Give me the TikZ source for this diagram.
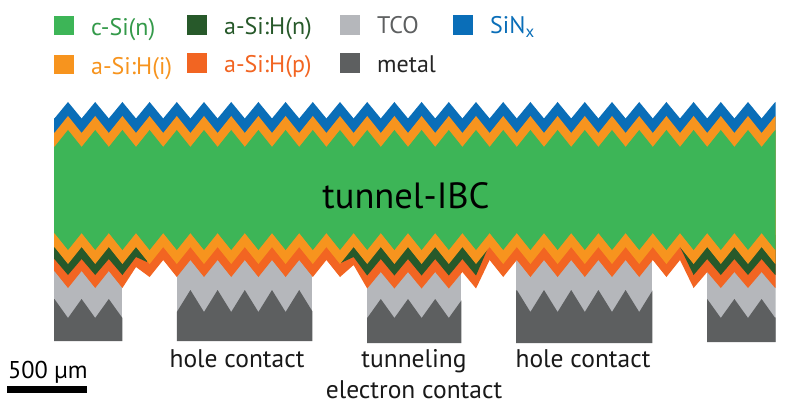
\documentclass[tikz,border=0pt]{standalone}
\usepackage{fontspec}
\setmainfont{PT Sans}
\definecolor{csi}{HTML}{3DB557}
\definecolor{intr}{HTML}{F7941E}
\definecolor{ndop}{HTML}{27592A}
\definecolor{pdop}{HTML}{F26522}
\definecolor{tco}{HTML}{B5B7BB}
\definecolor{metal}{HTML}{5D5F60}
\definecolor{sinx}{HTML}{0A6EB8}
% Zigzag vertices: even index k takes the first height, odd index the second.
\newcommand{\zig}[4]{\foreach \k in {#1,...,#2}{ -- ({54.4+13.6*\k},{mod(\k,2)==0 ? #3 : #4}) }}
% One rear contact: TCO block with a metal block on a textured top.
\newcommand{\contact}[5]{%
  \begin{scope}
    \clip (#1,250) rectangle (#2,#3);
    \fill[tco] (#1,250) rectangle (#2,#3);
    \fill[metal] (#1-30,#3) \zig{-3}{56}{#4}{#5} -- (#2+30,#3) -- cycle;
  \end{scope}}
\tikzset{
  legtxt/.style={anchor=base west,font=\fontsize{24}{28}\selectfont,inner sep=0pt},
  captxt/.style={anchor=base,font=\fontsize{25.5}{30}\selectfont,inner sep=0pt,text=black!90}
}
\begin{document}
\begin{tikzpicture}[x=1pt,y=-1pt]
\useasboundingbox (0,0) rectangle (787,406);
\fill[white] (0,0) rectangle (787,406);

% rear contacts
\contact{54}{122.4}{341}{299}{318}
\contact{176.8}{312.4}{341}{290}{312}
\contact{367.2}{461.4}{343}{299}{318}
\contact{516}{652.4}{343}{290}{312}
\contact{707.2}{775.6}{342}{299}{318}

\begin{scope}
  \clip (54,90) rectangle (775.6,300);
  % p-type layer, deeper where it lies over the n-type strips
  \fill[pdop] (40,200) \zig{-1}{5}{271}{288} -- ({54.4+13.6*6},267)
    \zig{7}{21}{260}{277} -- ({54.4+13.6*22},265)
    \zig{23}{31}{272}{288.5} \zig{32}{46}{260}{277}
    \zig{47}{54}{272}{288} -- (800,200) -- cycle;
  % n-type strips
  \fill[ndop] (40,235) \zig{-1}{5}{259}{275} -- (136,257) -- (147,262) -- (147,235) -- cycle;
  \fill[ndop] (340.7,263) -- (353.6,257) \zig{23}{31}{259}{275.5} -- (488,248) -- (488,235) -- (340.7,235) -- cycle;
  \fill[ndop] (680,247) \zig{47}{54}{259}{275} -- (800,235) -- (680,235) -- cycle;
  % intrinsic passivation, rear side
  \fill[intr] (40,200) \zig{-1}{54}{247}{264} -- (800,200) -- cycle;
  % front stack
  \fill[sinx] (40,200) \zig{-1}{54}{118.5}{102} -- (800,200) -- cycle;
  \fill[intr] (40,200) \zig{-1}{54}{133}{116} -- (800,200) -- cycle;
  \fill[csi] (40,140) \zig{-1}{54}{147}{130} -- (800,140) \zig{54}{-1}{233}{250} -- (40,233) -- cycle;
\end{scope}

% legend
\fill[csi]  (54,16) rectangle (73.5,35.5);
\fill[intr] (54,55) rectangle (73.5,74.5);
\fill[ndop] (187,15) rectangle (207,35);
\fill[pdop] (187,53) rectangle (207,73);
\fill[tco]  (340,15) rectangle (360,35);
\fill[metal](340,53) rectangle (360,73);
\fill[sinx] (453,15) rectangle (473,35);
\node[legtxt,text=csi!85!black] (lc) at (91,35.5) {c-Si(n)};
\node[legtxt,text=intr] (li) at (91,75) {a-Si:H(i)};
\node[legtxt,text=ndop] (ln) at (224,34.5) {a-Si:H(n)};
\node[legtxt,text=pdop] (lp) at (224,73) {a-Si:H(p)};
\node[legtxt,text=metal] (lt) at (377,34) {TCO};
\node[legtxt,text=black!85] (lm) at (377,73) {metal};
\node[legtxt,text=sinx] (ls) at (490,34) {SiN\textsubscript{x}};

% captions
\node[anchor=base,inner sep=0pt,font=\fontsize{36.5}{42}\selectfont] (title) at (406,209) {tunnel-IBC};
\node[captxt] (c1) at (237,367) {hole contact};
\node[captxt] (c2) at (414,367) {tunneling};
\node[captxt] (c3) at (414,398) {electron contact};
\node[captxt] (c4) at (583,367) {hole contact};

% scale bar
\node[anchor=base west,inner sep=0pt,font=\fontsize{24.3}{28}\selectfont] (sb) at (8,378) {500 µm};
\fill[black] (7,386) rectangle (87,393);
\end{tikzpicture}
\end{document}
